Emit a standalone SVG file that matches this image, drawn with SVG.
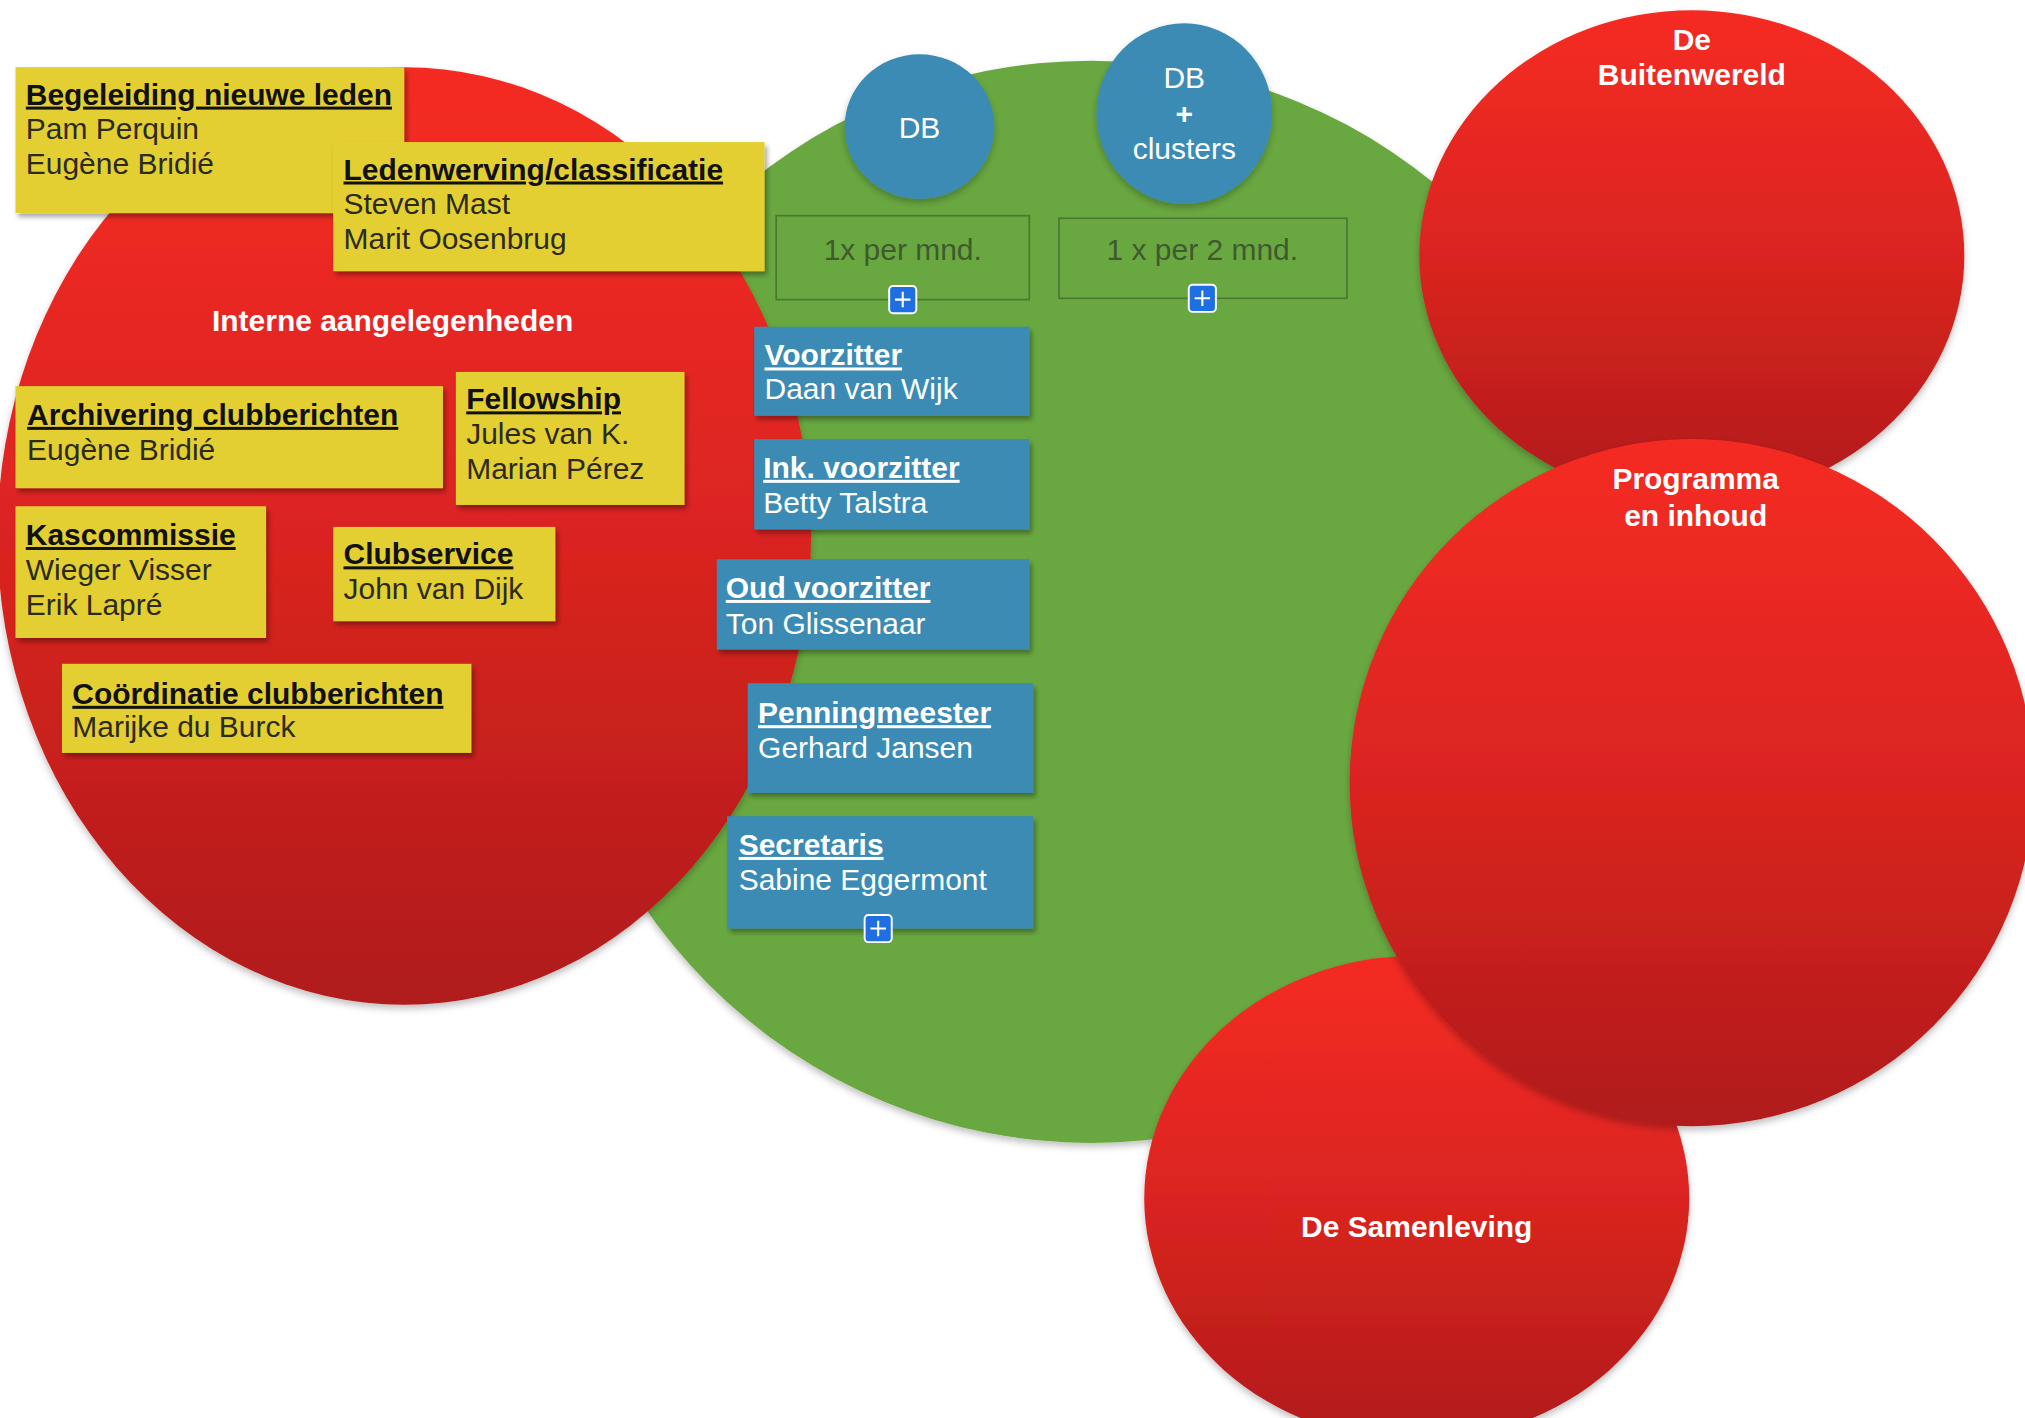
<svg xmlns="http://www.w3.org/2000/svg" width="2025" height="1418" viewBox="0 0 2025 1418">
<defs>
<linearGradient id="redg" x1="0" y1="0" x2="0" y2="1">
<stop offset="0" stop-color="#f52c22"/>
<stop offset="0.5" stop-color="#db2420"/>
<stop offset="1" stop-color="#b01b1b"/>
</linearGradient>
<filter id="sh" x="-10%" y="-10%" width="130%" height="140%">
<feDropShadow dx="2" dy="3" stdDeviation="2" flood-color="#000" flood-opacity="0.35"/>
</filter>
<filter id="csh" x="-10%" y="-10%" width="120%" height="120%">
<feDropShadow dx="0" dy="3" stdDeviation="3" flood-color="#000" flood-opacity="0.25"/>
</filter>
<g id="plus">
<rect x="-10.5" y="-10.5" width="21" height="21" rx="3" fill="#1f6fe3" stroke="#ffffff" stroke-width="1.5"/>
<path d="M-6 0H6M0 -6V6" stroke="#ffffff" stroke-width="1.6"/>
</g>
</defs>
<style>
text{font-family:"Liberation Sans",Arial,sans-serif;font-size:23.2px}
.yb{fill:#e4cf31;filter:url(#sh)}
.bb{fill:#3a8bb4;filter:url(#sh)}
.yt{font-weight:bold;fill:#111111;text-decoration:underline}
.yn{fill:#2c2a1c}
.bt{font-weight:bold;fill:#ffffff;text-decoration:underline}
.bn{fill:#ffffff}
.red{fill:url(#redg);filter:url(#csh)}
.wl{font-weight:bold;fill:#ffffff;text-anchor:middle}
.freq{fill:none;stroke:#4b7733;stroke-width:1.3}
.ft{fill:#3f5a2e;text-anchor:middle}
.dbc{fill:#3a8bb4;filter:url(#csh)}
.dbt{fill:#ffffff;text-anchor:middle}
</style>
<g transform="scale(1.29145)">
<g id="green-circle"><circle cx="845" cy="466" r="419" fill="#69a83f" filter="url(#csh)"/></g>
<g id="interne"><ellipse class="red" cx="313" cy="415" rx="315" ry="363"/><text class="wl" x="304" y="256">Interne aangelegenheden</text></g>
<g id="buitenwereld"><ellipse class="red" cx="1310" cy="198" rx="211" ry="190"/><text class="wl" x="1310" y="39">De</text><text class="wl" x="1310" y="66">Buitenwereld</text></g>
<g id="samenleving"><ellipse class="red" cx="1097" cy="928" rx="211" ry="188"/><text class="wl" x="1097" y="958">De Samenleving</text></g>
<g id="programma"><ellipse class="red" cx="1310" cy="606" rx="265" ry="266"/><text class="wl" x="1313" y="379">Programma</text><text class="wl" x="1313" y="407">en inhoud</text></g>
<g id="connectors"></g>
<g id="begeleiding"><rect class="yb" x="12" y="52" width="301" height="113"/><text class="yt" x="20" y="81">Begeleiding nieuwe leden</text><text class="yn" x="20" y="108">Pam Perquin</text><text class="yn" x="20" y="135">Eugène Bridié</text></g>
<g id="ledenwerving"><rect class="yb" x="258" y="110" width="334" height="100"/><text class="yt" x="266" y="139">Ledenwerving/classificatie</text><text class="yn" x="266" y="166">Steven Mast</text><text class="yn" x="266" y="193">Marit Oosenbrug</text></g>
<g id="archivering"><rect class="yb" x="12" y="299" width="331" height="79"/><text class="yt" x="21" y="329">Archivering clubberichten</text><text class="yn" x="21" y="356">Eugène Bridié</text></g>
<g id="fellowship"><rect class="yb" x="353" y="288" width="177" height="103"/><text class="yt" x="361" y="317">Fellowship</text><text class="yn" x="361" y="344">Jules van K.</text><text class="yn" x="361" y="371">Marian Pérez</text></g>
<g id="kascommissie"><rect class="yb" x="12" y="392" width="194" height="102"/><text class="yt" x="20" y="422">Kascommissie</text><text class="yn" x="20" y="449">Wieger Visser</text><text class="yn" x="20" y="476">Erik Lapré</text></g>
<g id="clubservice"><rect class="yb" x="258" y="408" width="172" height="73"/><text class="yt" x="266" y="437">Clubservice</text><text class="yn" x="266" y="464">John van Dijk</text></g>
<g id="coordinatie"><rect class="yb" x="48" y="514" width="317" height="69"/><text class="yt" x="56" y="545">Coördinatie clubberichten</text><text class="yn" x="56" y="571">Marijke du Burck</text></g>
<g id="db"><ellipse class="dbc" cx="712" cy="98" rx="58" ry="56"/><text class="dbt" x="712" y="107">DB</text></g>
<g id="db-clusters"><ellipse class="dbc" cx="917" cy="88" rx="68" ry="70"/><text class="dbt" x="917" y="68">DB</text><text class="dbt" x="917" y="96" style="font-weight:bold">+</text><text class="dbt" x="917" y="123">clusters</text></g>
<g id="freq1"><rect class="freq" x="601" y="167" width="196" height="65"/><text class="ft" x="699" y="201">1x per mnd.</text><use href="#plus" x="699" y="232"/></g>
<g id="freq2"><rect class="freq" x="820" y="169" width="223" height="62"/><text class="ft" x="931" y="201">1 x per 2 mnd.</text><use href="#plus" x="931" y="231"/></g>
<g id="voorzitter"><rect class="bb" x="584" y="253" width="213" height="69"/><text class="bt" x="592" y="283">Voorzitter</text><text class="bn" x="592" y="309">Daan van Wijk</text></g>
<g id="ink-voorzitter"><rect class="bb" x="584" y="340" width="213" height="70"/><text class="bt" x="591" y="370">Ink. voorzitter</text><text class="bn" x="591" y="397">Betty Talstra</text></g>
<g id="oud-voorzitter"><rect class="bb" x="555" y="433" width="242" height="70"/><text class="bt" x="562" y="463">Oud voorzitter</text><text class="bn" x="562" y="491">Ton Glissenaar</text></g>
<g id="penningmeester"><rect class="bb" x="579" y="529" width="221" height="85"/><text class="bt" x="587" y="560">Penningmeester</text><text class="bn" x="587" y="587">Gerhard Jansen</text></g>
<g id="secretaris"><rect class="bb" x="563" y="632" width="237" height="87"/><text class="bt" x="572" y="662">Secretaris</text><text class="bn" x="572" y="689">Sabine Eggermont</text><use href="#plus" x="680" y="719"/></g>
</g>
</svg>
